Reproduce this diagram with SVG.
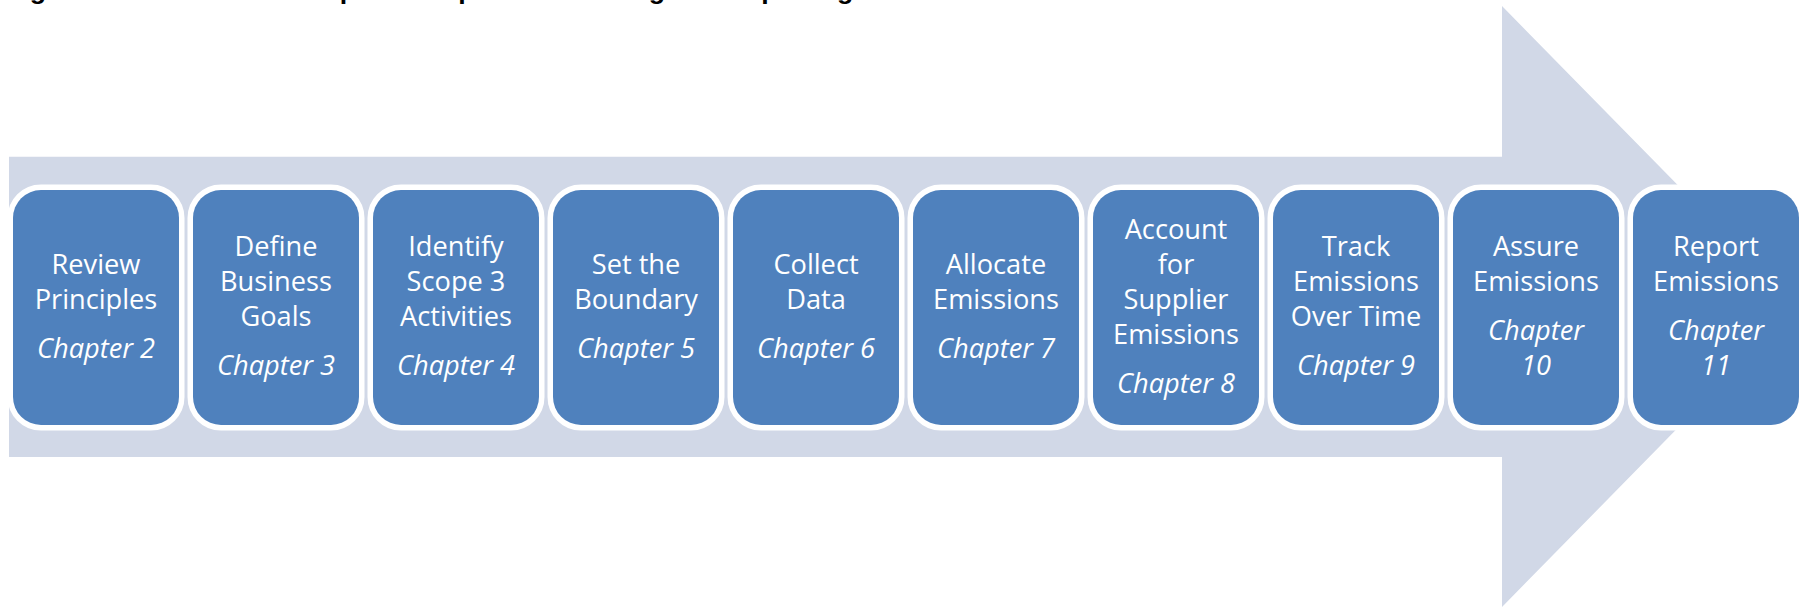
<svg xmlns="http://www.w3.org/2000/svg" width="1803" height="607" viewBox="0 0 1803 607">
<style>
.box{fill:#4F81BD;stroke:#FFFFFF;stroke-width:11;paint-order:stroke}
.t{font-family:"Open Sans","Liberation Sans",sans-serif;font-size:27.2px;fill:#FFFFFF;text-anchor:middle}
.c{font-style:italic}
.title{font-family:"Liberation Sans",Arial,sans-serif;font-weight:bold;font-size:26.7px;fill:#000000}
</style>
<rect width="1803" height="607" fill="#FFFFFF"/>
<text class="title" x="6" y="-1.5">Figure 1.1 Overview of Steps in Scope 3 Accounting and Reporting</text>
<g id="arrow">
<polygon points="9,156.7 1502,156.7 1502,6 1797,306.5 1502,607 1502,457 9,457" fill="#D1D8E7"/>
</g>
<g id="connectors"></g>
<g id="n1"><rect class="box" x="13" y="190" width="166" height="235" rx="28"/>
<text class="t" x="96"><tspan x="96" y="273.5">Review</tspan><tspan x="96" y="308.5">Principles</tspan><tspan class="c" x="96" y="357.5">Chapter 2</tspan></text></g>
<g id="n2"><rect class="box" x="193" y="190" width="166" height="235" rx="28"/>
<text class="t" x="276"><tspan x="276" y="256">Define</tspan><tspan x="276" y="291">Business</tspan><tspan x="276" y="326">Goals</tspan><tspan class="c" x="276" y="375">Chapter 3</tspan></text></g>
<g id="n3"><rect class="box" x="373" y="190" width="166" height="235" rx="28"/>
<text class="t" x="456"><tspan x="456" y="256">Identify</tspan><tspan x="456" y="291">Scope 3</tspan><tspan x="456" y="326">Activities</tspan><tspan class="c" x="456" y="375">Chapter 4</tspan></text></g>
<g id="n4"><rect class="box" x="553" y="190" width="166" height="235" rx="28"/>
<text class="t" x="636"><tspan x="636" y="273.5">Set the</tspan><tspan x="636" y="308.5">Boundary</tspan><tspan class="c" x="636" y="357.5">Chapter 5</tspan></text></g>
<g id="n5"><rect class="box" x="733" y="190" width="166" height="235" rx="28"/>
<text class="t" x="816"><tspan x="816" y="273.5">Collect</tspan><tspan x="816" y="308.5">Data</tspan><tspan class="c" x="816" y="357.5">Chapter 6</tspan></text></g>
<g id="n6"><rect class="box" x="913" y="190" width="166" height="235" rx="28"/>
<text class="t" x="996"><tspan x="996" y="273.5">Allocate</tspan><tspan x="996" y="308.5">Emissions</tspan><tspan class="c" x="996" y="357.5">Chapter 7</tspan></text></g>
<g id="n7"><rect class="box" x="1093" y="190" width="166" height="235" rx="28"/>
<text class="t" x="1176"><tspan x="1176" y="238.5">Account</tspan><tspan x="1176" y="273.5">for</tspan><tspan x="1176" y="308.5">Supplier</tspan><tspan x="1176" y="343.5">Emissions</tspan><tspan class="c" x="1176" y="392.5">Chapter 8</tspan></text></g>
<g id="n8"><rect class="box" x="1273" y="190" width="166" height="235" rx="28"/>
<text class="t" x="1356"><tspan x="1356" y="256">Track</tspan><tspan x="1356" y="291">Emissions</tspan><tspan x="1356" y="326">Over Time</tspan><tspan class="c" x="1356" y="375">Chapter 9</tspan></text></g>
<g id="n9"><rect class="box" x="1453" y="190" width="166" height="235" rx="28"/>
<text class="t" x="1536"><tspan x="1536" y="256">Assure</tspan><tspan x="1536" y="291">Emissions</tspan><tspan class="c" x="1536" y="340">Chapter</tspan><tspan class="c" x="1536" y="375">10</tspan></text></g>
<g id="n10"><rect class="box" x="1633" y="190" width="166" height="235" rx="28"/>
<text class="t" x="1716"><tspan x="1716" y="256">Report</tspan><tspan x="1716" y="291">Emissions</tspan><tspan class="c" x="1716" y="340">Chapter</tspan><tspan class="c" x="1716" y="375">11</tspan></text></g>
</svg>
